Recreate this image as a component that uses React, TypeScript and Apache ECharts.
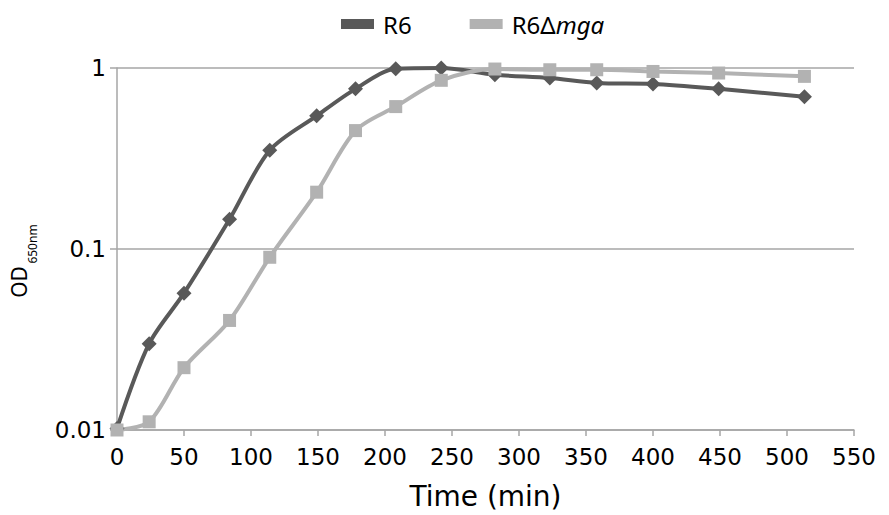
import React, { useEffect, useRef } from "react";
import * as echarts from "echarts";

const times = [0, 24, 50, 84, 114, 149, 178, 208, 242, 282, 323, 358, 400, 449, 513];
const r6 = [0.0102, 0.030, 0.057, 0.146, 0.351, 0.544, 0.767, 0.99, 1.0, 0.918, 0.881, 0.827, 0.817, 0.767, 0.694];
const r6mga = [0.01, 0.0111, 0.0221, 0.0403, 0.09, 0.206, 0.451, 0.612, 0.855, 0.987, 0.978, 0.978, 0.957, 0.938, 0.899];
const seriesNames = ["R6", "R6Δmga"];
const xTicks = { min: 0, max: 550, interval: 50 };

export default function App() {
  const ref = useRef<HTMLDivElement>(null);
  useEffect(() => {
    if (!ref.current) return;
    const chart = echarts.init(ref.current, undefined, { renderer: "svg" });
    const tickFont = "DejaVu Sans";
    const legFont = "Noto Sans";
    chart.setOption({
      animation: false,
      backgroundColor: "#ffffff",
      grid: { left: 117, right: 35, top: 68, bottom: 80 },
      legend: {
        top: 12,
        left: 341,
        padding: 0,
        icon: "rect",
        itemWidth: 33,
        itemHeight: 10,
        itemGap: 58,
        data: seriesNames,
        formatter: (name: string) =>
          name === "R6Δmga" ? "{n|R6Δ}{i|mga}" : "{n|" + name + "}",
        textStyle: {
          fontFamily: legFont,
          fontSize: 24,
          color: "#000",
          rich: {
            n: { fontFamily: legFont, fontSize: 24, color: "#000", padding: [0, 0, 0, 4] },
            i: { fontFamily: legFont, fontSize: 24, fontStyle: "italic", color: "#000" },
          },
        },
      },
      xAxis: {
        type: "value",
        min: xTicks.min,
        max: xTicks.max,
        interval: xTicks.interval,
        name: "Time (min)",
        nameLocation: "middle",
        nameGap: 52,
        nameTextStyle: { fontFamily: tickFont, fontSize: 28, color: "#000" },
        axisLine: { show: true, lineStyle: { color: "#a6a6a6", width: 1.5 } },
        axisTick: { show: true, length: 6, lineStyle: { color: "#a6a6a6", width: 1.5 } },
        axisLabel: { fontFamily: tickFont, fontSize: 23, color: "#000", margin: 15 },
        splitLine: { show: false },
      },
      yAxis: {
        type: "log",
        logBase: 10,
        min: 0.01,
        max: 1,
        axisLine: { show: true, lineStyle: { color: "#a6a6a6", width: 1.5 } },
        axisTick: { show: true, length: 7, lineStyle: { color: "#a6a6a6", width: 1.5 } },
        axisLabel: {
          fontFamily: tickFont,
          fontSize: 23,
          color: "#000",
          margin: 11,
          formatter: (v: number) => (v >= 1 ? "1" : v >= 0.1 ? "0.1" : "0.01"),
        },
        splitLine: { show: true, lineStyle: { color: "#a6a6a6", width: 1.5 } },
      },
      graphic: [
        {
          type: "text",
          x: 19,
          y: 282,
          rotation: Math.PI / 2,
          style: {
            text: "OD",
            font: "21px 'Noto Sans'",
            align: "center",
            verticalAlign: "middle",
            fill: "#000",
          },
        },
        {
          type: "text",
          x: 32.5,
          y: 244,
          rotation: Math.PI / 2,
          style: {
            text: "650nm",
            font: "12px 'Noto Sans'",
            align: "center",
            verticalAlign: "middle",
            fill: "#000",
          },
        },
      ],
      series: [
        {
          name: seriesNames[0],
          type: "line",
          smooth: 0.3,
          clip: false,
          data: times.map((t, i) => [t, r6[i]]),
          symbol: "diamond",
          symbolSize: 15,
          lineStyle: { color: "#595959", width: 4 },
          itemStyle: { color: "#595959" },
        },
        {
          name: seriesNames[1],
          type: "line",
          smooth: 0.3,
          clip: false,
          data: times.map((t, i) => [t, r6mga[i]]),
          symbol: "rect",
          symbolSize: 13,
          lineStyle: { color: "#b2b2b2", width: 4 },
          itemStyle: { color: "#b2b2b2" },
        },
      ],
    });
    return () => chart.dispose();
  }, []);
  return (
    <div
      ref={ref}
      style={{ position: "fixed", left: 0, top: 0, width: 889, height: 515 }}
    />
  );
}
